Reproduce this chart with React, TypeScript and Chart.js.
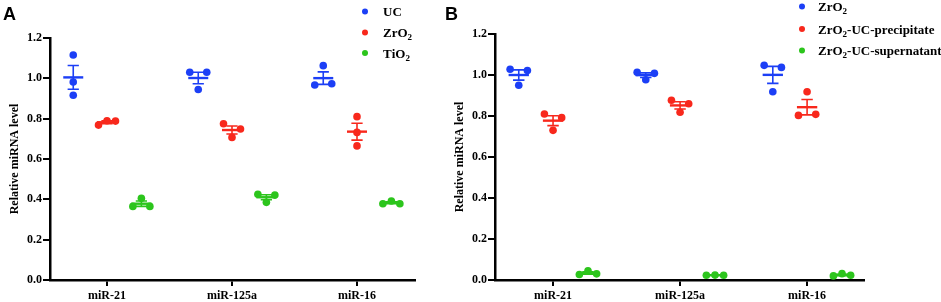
import React, { useEffect, useRef } from "react";
import { Chart, registerables } from "chart.js";

Chart.register(...registerables);

// ---------- data ----------
const categories = ["miR-21", "miR-125a", "miR-16"];
const yTicks = [0, 0.2, 0.4, 0.6, 0.8, 1.0, 1.2];
const yTitle = "Relative miRNA level";

// Panel A
const legendA = ["UC", "ZrO₂", "TiO₂"];
const ucA = [
  [0.916, 0.982, 1.116],
  [1.03, 0.945, 1.03],
  [0.967, 1.063, 0.973],
];
const zrA = [
  [0.768, 0.79, 0.788],
  [0.775, 0.707, 0.749],
  [0.81, 0.732, 0.665],
];
const tiA = [
  [0.365, 0.405, 0.365],
  [0.425, 0.385, 0.421],
  [0.378, 0.392, 0.378],
];

// Panel B
const legendB = ["ZrO₂", "ZrO₂-UC-precipitate", "ZrO₂-UC-supernatant"];
const zrB = [
  [1.028, 0.95, 1.022],
  [1.013, 0.977, 1.008],
  [1.047, 0.918, 1.037],
];
const precipB = [
  [0.81, 0.73, 0.792],
  [0.877, 0.818, 0.86],
  [0.803, 0.918, 0.808],
];
const superB = [
  [0.027, 0.045, 0.03],
  [0.023, 0.024, 0.023],
  [0.02, 0.031, 0.023],
];

// ---------- styles ----------
const colors = ["#1c3ff6", "#f8281c", "#2cc51c"];
const groupOffsets = [-0.27, 0, 0.275];
const SERIF = "'Liberation Serif', 'Times New Roman', serif";
const SANS = "'Liberation Sans', Arial, sans-serif";

type Panel = {
  letter: string;
  labels: string[];
  series: number[][][];
  width: number;
  left: number;
  plotLeft: number;
  plotRight: number;
  plotTop: number;
  xMin: number;
  xMax: number;
  titlePad: number;
  letterX: number;
  legendDotX: number;
  legendTextX: number;
  legendYs: number[];
};

// simple beeswarm: rows of near-equal values spread horizontally
function swarm(vals: number[], d: number, thr: number): number[] {
  const idx = vals.map((_, i) => i).sort((a, b) => vals[a] - vals[b]);
  const rows: number[][] = [];
  let cur: number[] = [];
  idx.forEach((i, k) => {
    if (k > 0 && vals[i] - vals[idx[k - 1]] >= thr) {
      rows.push(cur);
      cur = [];
    }
    cur.push(i);
  });
  if (cur.length) rows.push(cur);
  const offs = vals.map(() => 0);
  rows.forEach((r) => {
    const sorted = [...r].sort((a, b) => a - b);
    if (sorted.length === 2) {
      offs[sorted[0]] = -d;
      offs[sorted[1]] = d;
    } else if (sorted.length >= 3) {
      const n = sorted.length;
      sorted.forEach((i, k) => (offs[i] = (k - (n - 1) / 2) * d));
    }
  });
  return offs;
}

function stats(v: number[]) {
  const n = v.length;
  const m = v.reduce((a, b) => a + b, 0) / n;
  const sd = Math.sqrt(v.reduce((a, b) => a + (b - m) * (b - m), 0) / (n - 1));
  return { m, sem: sd / Math.sqrt(n) };
}

function drawLabel(ctx: CanvasRenderingContext2D, text: string, x: number, baseY: number) {
  let cx = x;
  for (const ch of text) {
    if (ch === "₂") {
      ctx.font = `bold 9px ${SERIF}`;
      ctx.fillText("2", cx, baseY + 3);
      cx += ctx.measureText("2").width;
    } else {
      ctx.font = `bold 13px ${SERIF}`;
      ctx.fillText(ch, cx, baseY);
      cx += ctx.measureText(ch).width;
    }
  }
}

function makeChart(canvas: HTMLCanvasElement, p: Panel) {
  const datasets = p.series.map((ser, s) => ({
    label: p.labels[s],
    data: ser.flatMap((vals, i) => {
      const offs = swarm(vals, 0.068, 0.035);
      return vals.map((v, j) => ({ x: i + groupOffsets[s] + offs[j], y: v }));
    }),
    backgroundColor: colors[s],
    borderColor: colors[s],
    pointRadius: 3.8,
    pointBorderWidth: 0,
    showLine: false,
  }));

  const errPlugin = {
    id: "errBars",
    beforeDatasetsDraw(chart: any) {
      const ctx = chart.ctx as CanvasRenderingContext2D;
      const xs = chart.scales.x;
      const ys = chart.scales.y;
      ctx.save();
      p.series.forEach((ser, s) => {
        ctx.strokeStyle = colors[s];
        ser.forEach((vals, i) => {
          const { m, sem } = stats(vals);
          const xc = xs.getPixelForValue(i + groupOffsets[s]);
          const xl = xs.getPixelForValue(i + groupOffsets[s] - 0.08);
          const xr = xs.getPixelForValue(i + groupOffsets[s] + 0.08);
          const cl = xs.getPixelForValue(i + groupOffsets[s] - 0.045);
          const cr = xs.getPixelForValue(i + groupOffsets[s] + 0.045);
          const ym = ys.getPixelForValue(m);
          const yt = ys.getPixelForValue(m + sem);
          const yb = ys.getPixelForValue(m - sem);
          ctx.lineWidth = 1.6;
          ctx.beginPath();
          ctx.moveTo(xc, yt);
          ctx.lineTo(xc, yb);
          ctx.moveTo(cl, yt);
          ctx.lineTo(cr, yt);
          ctx.moveTo(cl, yb);
          ctx.lineTo(cr, yb);
          ctx.stroke();
          ctx.lineWidth = 2.4;
          ctx.beginPath();
          ctx.moveTo(xl, ym);
          ctx.lineTo(xr, ym);
          ctx.stroke();
        });
      });
      ctx.restore();
    },
  };

  const decoPlugin = {
    id: "deco",
    afterDraw(chart: any) {
      const ctx = chart.ctx as CanvasRenderingContext2D;
      ctx.save();
      ctx.fillStyle = "#000";
      ctx.textBaseline = "alphabetic";
      ctx.font = `bold 18px ${SANS}`;
      ctx.fillText(p.letter, p.letterX, 20);
      p.labels.forEach((lab, s) => {
        const y = p.legendYs[s];
        ctx.fillStyle = colors[s];
        ctx.beginPath();
        ctx.arc(p.legendDotX, y, 3, 0, Math.PI * 2);
        ctx.fill();
        ctx.fillStyle = "#000";
        drawLabel(ctx, lab, p.legendTextX, y + 4.5);
      });
      ctx.restore();
    },
  };

  return new Chart(canvas, {
    type: "scatter",
    data: { datasets } as any,
    plugins: [errPlugin, decoPlugin],
    options: {
      responsive: false,
      maintainAspectRatio: false,
      animation: false,
      devicePixelRatio: 1,
      layout: {
        padding: { left: 0, top: p.plotTop, right: p.width - p.plotRight, bottom: 0 },
      },
      plugins: { legend: { display: false }, title: { display: false }, tooltip: { enabled: false } },
      scales: {
        x: {
          type: "linear",
          min: p.xMin,
          max: p.xMax,
          afterBuildTicks: (sc: any) => {
            sc.ticks = categories.map((_, i) => ({ value: i }));
          },
          afterFit: (sc: any) => {
            sc.height = 22;
          },
          ticks: {
            autoSkip: false,
            maxRotation: 0,
            padding: 3,
            color: "#000",
            font: { family: SERIF, weight: "bold", size: 12 },
            callback: (_v: any, i: number) => categories[i],
          },
          grid: { display: true, drawOnChartArea: false, drawTicks: true, tickLength: 6, color: "#000", lineWidth: 2 },
          border: { display: true, color: "#000", width: 2.5 },
        },
        y: {
          type: "linear",
          min: 0,
          max: 1.2,
          afterBuildTicks: (sc: any) => {
            sc.ticks = yTicks.map((v) => ({ value: v }));
          },
          afterFit: (sc: any) => {
            sc.width = p.plotLeft;
          },
          ticks: {
            padding: 1,
            color: "#000",
            font: { family: SERIF, weight: "bold", size: 12 },
            callback: (v: any) => Number(v).toFixed(1),
          },
          title: {
            display: true,
            text: yTitle,
            color: "#000",
            font: { family: SERIF, weight: "bold", size: 12 },
            padding: { top: p.titlePad, bottom: 0 },
          },
          grid: { display: true, drawOnChartArea: false, drawTicks: true, tickLength: 7, color: "#000", lineWidth: 2 },
          border: { display: true, color: "#000", width: 2.5 },
        },
      },
    } as any,
  });
}

const panelA: Panel = {
  letter: "A",
  labels: legendA,
  series: [ucA, zrA, tiA],
  width: 440,
  left: 0,
  plotLeft: 50,
  plotRight: 415,
  plotTop: 38,
  xMin: -0.456,
  xMax: 2.464,
  titlePad: 8,
  letterX: 3,
  legendDotX: 365,
  legendTextX: 383,
  legendYs: [11.5, 32.5, 53],
};

const panelB: Panel = {
  letter: "B",
  labels: legendB,
  series: [zrB, precipB, superB],
  width: 501,
  left: 440,
  plotLeft: 55,
  plotRight: 424,
  plotTop: 34,
  xMin: -0.457,
  xMax: 2.448,
  titlePad: 13,
  letterX: 5,
  legendDotX: 362,
  legendTextX: 378,
  legendYs: [6.5, 29, 50.5],
};

function PanelChart({ p }: { p: Panel }) {
  const ref = useRef<HTMLCanvasElement | null>(null);
  useEffect(() => {
    if (!ref.current) return;
    const c = makeChart(ref.current, p);
    return () => c.destroy();
  }, [p]);
  return (
    <canvas
      ref={ref}
      width={p.width}
      height={302}
      style={{ position: "absolute", left: p.left, top: 0, width: p.width, height: 302 }}
    />
  );
}

export default function App() {
  return (
    <div style={{ position: "absolute", left: 0, top: 0, width: 941, height: 302, background: "#fff" }}>
      <PanelChart p={panelA} />
      <PanelChart p={panelB} />
    </div>
  );
}
